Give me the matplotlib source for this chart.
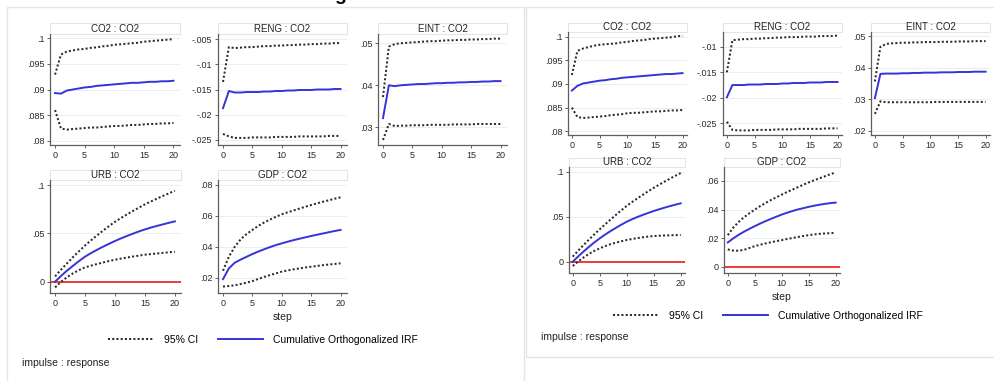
import matplotlib
matplotlib.use("Agg")
import matplotlib.pyplot as plt
from matplotlib.patches import Rectangle
from matplotlib.lines import Line2D
from matplotlib.ticker import FuncFormatter, FixedLocator

plt.rcParams['font.family'] = ['Liberation Sans', 'DejaVu Sans']

W, H = 995, 381

steps = list(range(21))
step_ticks = [0, 5, 10, 15, 20]
titles = ["CO2 : CO2", "RENG : CO2", "EINT : CO2", "URB : CO2", "GDP : CO2"]
legend_labels = ["95% CI", "Cumulative Orthogonalized IRF"]

# ---------------- model A (left graph) ----------------
a_co2_irf = [.0893, .0892, .0898, .0900, .0902, .0904, .0905, .0907, .0908, .0909, .0910,
             .0911, .0912, .0913, .0913, .0914, .0915, .0915, .0916, .0916, .0917]
a_co2_hi = [.0929, .0968, .0974, .0976, .0978, .0979, .0981, .0982, .0984, .0985, .0987,
            .0988, .0989, .0990, .0991, .0993, .0994, .0995, .0996, .0997, .0998]
a_co2_lo = [.0860, .0824, .0822, .0823, .0824, .0825, .0826, .0826, .0827, .0828, .0829,
            .0829, .0830, .0831, .0831, .0832, .0833, .0833, .0834, .0834, .0835]

a_reng_irf = [-.0187, -.0153, -.0156, -.0156, -.0155, -.0155, -.0155, -.0154, -.0154, -.0153, -.0153,
              -.0152, -.0152, -.0151, -.0151, -.0151, -.0150, -.0150, -.0150, -.0149, -.0149]
a_reng_hi = [-.0135, -.0066, -.0068, -.0067, -.0066, -.0066, -.0065, -.0064, -.0064, -.0063, -.0063,
             -.0062, -.0062, -.0061, -.0061, -.0060, -.0060, -.0059, -.0059, -.0058, -.0058]
a_reng_lo = [-.0238, -.0243, -.0246, -.0246, -.0246, -.0245, -.0245, -.0245, -.0245, -.0244, -.0244,
             -.0244, -.0244, -.0243, -.0243, -.0243, -.0243, -.0243, -.0242, -.0242, -.0242]

a_eint_irf = [.0322, .0400, .0398, .0400, .0401, .0402, .0403, .0403, .0404, .0405, .0405,
              .0406, .0406, .0407, .0407, .0408, .0408, .0409, .0409, .0410, .0410]
a_eint_hi = [.0372, .0492, .0498, .0500, .0501, .0502, .0503, .0504, .0505, .0505, .0506,
             .0507, .0507, .0508, .0508, .0509, .0509, .0510, .0510, .0511, .0511]
a_eint_lo = [.0270, .0308, .0303, .0304, .0304, .0305, .0305, .0305, .0306, .0306, .0306,
             .0306, .0307, .0307, .0307, .0307, .0308, .0308, .0308, .0308, .0308]

a_urb_irf = [0.0, .0060, .0115, .0165, .0214, .0259, .0296, .0330, .0362, .0392, .0421,
             .0448, .0473, .0497, .0520, .0541, .0560, .0577, .0593, .0609, .0624]
a_urb_hi = [.0055, .0125, .0191, .0255, .0316, .0375, .0428, .0479, .0528, .0575, .0620,
            .0659, .0696, .0732, .0767, .0800, .0830, .0859, .0887, .0914, .0941]
a_urb_lo = [-.0059, -.0001, .0047, .0087, .0120, .0148, .0166, .0183, .0199, .0214, .0227,
            .0239, .0250, .0260, .0270, .0279, .0286, .0292, .0298, .0304, .0310]

a_gdp_irf = [.0191, .0260, .0297, .0317, .0335, .0353, .0369, .0384, .0398, .0411, .0422,
             .0433, .0443, .0452, .0461, .0470, .0478, .0486, .0494, .0502, .0509]
a_gdp_hi = [.0245, .0336, .0400, .0448, .0482, .0509, .0535, .0557, .0576, .0594, .0610,
            .0623, .0635, .0647, .0659, .0670, .0681, .0691, .0701, .0711, .0720]
a_gdp_lo = [.0143, .0146, .0151, .0159, .0168, .0178, .0192, .0205, .0217, .0228, .0239,
            .0247, .0254, .0260, .0266, .0271, .0276, .0281, .0285, .0289, .0293]

# ---------------- model B (right graph) ----------------
b_co2_irf = [.0886, .0896, .0901, .0903, .0905, .0907, .0908, .0910, .0911, .0913, .0914,
             .0915, .0916, .0917, .0918, .0919, .0920, .0921, .0921, .0922, .0923]
b_co2_hi = [.0919, .0970, .0975, .0978, .0981, .0983, .0984, .0985, .0986, .0988, .0989,
            .0991, .0992, .0993, .0995, .0996, .0997, .0998, .0999, .1001, .1002]
b_co2_lo = [.0850, .0830, .0828, .0829, .0830, .0831, .0832, .0834, .0835, .0836, .0838,
            .0839, .0839, .0840, .0841, .0842, .0842, .0843, .0844, .0844, .0845]

b_reng_irf = [-.0199, -.0175, -.0175, -.0175, -.0174, -.0174, -.0174, -.0173, -.0173, -.0173, -.0172,
              -.0172, -.0171, -.0171, -.0171, -.0170, -.0170, -.0170, -.0169, -.0169, -.0169]
b_reng_hi = [-.0150, -.0087, -.0086, -.0085, -.0085, -.0084, -.0084, -.0083, -.0083, -.0082, -.0082,
             -.0081, -.0081, -.0081, -.0080, -.0080, -.0080, -.0079, -.0079, -.0079, -.0078]
b_reng_lo = [-.0247, -.0263, -.0264, -.0264, -.0264, -.0263, -.0263, -.0263, -.0263, -.0262, -.0262,
             -.0262, -.0262, -.0261, -.0261, -.0261, -.0261, -.0261, -.0260, -.0260, -.0260]

b_eint_irf = [.0303, .0380, .0381, .0381, .0381, .0382, .0382, .0383, .0383, .0384, .0384,
              .0384, .0385, .0385, .0385, .0386, .0386, .0386, .0387, .0387, .0387]
b_eint_hi = [.0356, .0466, .0475, .0477, .0478, .0479, .0479, .0480, .0480, .0481, .0481,
             .0481, .0482, .0482, .0482, .0483, .0483, .0483, .0484, .0484, .0484]
b_eint_lo = [.0253, .0293, .0290, .0290, .0290, .0290, .0290, .0290, .0290, .0290, .0290,
             .0291, .0291, .0291, .0291, .0291, .0291, .0291, .0291, .0291, .0291]

b_urb_irf = [0.0, .0058, .0113, .0165, .0214, .0259, .0301, .0340, .0376, .0411, .0444,
             .0472, .0497, .0520, .0542, .0563, .0582, .0600, .0617, .0633, .0648]
b_urb_hi = [.0056, .0122, .0185, .0245, .0304, .0360, .0415, .0468, .0520, .0571, .0620,
            .0663, .0704, .0744, .0783, .0820, .0855, .0889, .0922, .0954, .0985]
b_urb_lo = [-.0048, .0002, .0047, .0087, .0120, .0148, .0173, .0194, .0212, .0227, .0241,
            .0252, .0262, .0271, .0279, .0285, .0288, .0291, .0293, .0295, .0296]

b_gdp_irf = [.0170, .0198, .0223, .0245, .0265, .0284, .0302, .0319, .0335, .0350, .0365,
             .0378, .0390, .0401, .0410, .0419, .0427, .0434, .0440, .0445, .0449]
b_gdp_hi = [.0221, .0273, .0313, .0346, .0374, .0400, .0424, .0446, .0467, .0486, .0505,
            .0523, .0540, .0557, .0574, .0590, .0605, .0619, .0633, .0647, .0660]
b_gdp_lo = [.0121, .0113, .0112, .0118, .0131, .0144, .0154, .0163, .0171, .0179, .0186,
            .0194, .0201, .0208, .0215, .0221, .0226, .0230, .0233, .0235, .0237]

# y-axis tick values of each subplot
a_yticks = [[.08, .085, .09, .095, .1], [-.025, -.02, -.015, -.01, -.005], [.03, .04, .05],
            [0, .05, .1], [.02, .04, .06, .08]]
b_yticks = [[.08, .085, .09, .095, .1], [-.025, -.02, -.015, -.01], [.02, .03, .04, .05],
            [0, .05, .1], [0, .02, .04, .06]]

# ---------------- style ----------------
IRF_COLOR = "#3434d8"
CI_COLOR = "#2a2a2a"
ZERO_COLOR = "#f03a3a"
AXIS_COLOR = "#5e5e5e"
GRID_COLOR = "#eceef1"
FRAME_COLOR = "#e2e6ea"
CI_STYLE = (0, (1, 1.1))
CI_LW = 1.45

fig = plt.figure(figsize=(W / 100, H / 100), dpi=100)
fig.patch.set_facecolor("white")


def stata_fmt(v, pos=None):
    s = f"{round(v, 6):g}"
    if s.startswith("0."):
        s = s[1:]
    elif s.startswith("-0."):
        s = "-" + s[2:]
    return s


def frame(x0, y0, x1, y1):
    fig.add_artist(Rectangle((x0 / W, 1 - y1 / H), (x1 - x0) / W, (y1 - y0) / H,
                             transform=fig.transFigure, fill=False,
                             edgecolor=FRAME_COLOR, lw=1.0, clip_on=False))


def subplot(box, title_top, title, lo, irf, hi, ylim, yticks, xlim, xlabel=None):
    x0, x1, ytop, ybot = box
    ax = fig.add_axes([x0 / W, 1 - ybot / H, (x1 - x0) / W, (ybot - ytop) / H])
    if ylim[0] < 0 < ylim[1]:
        ax.axhline(0, color=ZERO_COLOR, lw=1.4, zorder=2)
    ax.plot(steps, hi, color=CI_COLOR, ls=CI_STYLE, lw=CI_LW, zorder=3)
    ax.plot(steps, lo, color=CI_COLOR, ls=CI_STYLE, lw=CI_LW, zorder=3)
    ax.plot(steps, irf, color=IRF_COLOR, lw=1.4, zorder=4)
    ax.set_xlim(*xlim)
    ax.set_ylim(*ylim)
    ax.xaxis.set_major_locator(FixedLocator(step_ticks))
    ax.yaxis.set_major_locator(FixedLocator(yticks))
    ax.yaxis.set_major_formatter(FuncFormatter(stata_fmt))
    for side in ("top", "right"):
        ax.spines[side].set_visible(False)
    for side in ("left", "bottom"):
        ax.spines[side].set_color(AXIS_COLOR)
        ax.spines[side].set_linewidth(0.9)
    ax.tick_params(direction="out", length=2.5, width=0.7, color=AXIS_COLOR,
                   labelsize=6.5, pad=1.5, labelcolor="#2a2a2a")
    ax.yaxis.grid(True, color=GRID_COLOR, lw=0.8)
    ax.set_axisbelow(True)
    # title strip above the plot region
    th = (ytop - title_top) / (ybot - ytop)
    ax.add_patch(Rectangle((0, 1.0), 1, th, transform=ax.transAxes, clip_on=False,
                           facecolor="white", edgecolor=FRAME_COLOR, lw=0.8))
    ax.text(0.5, 1.0 + th / 2, title, transform=ax.transAxes, ha="center",
            va="center", fontsize=7, color="#222222")
    if xlabel:
        ax.set_xlabel(xlabel, fontsize=7.5, labelpad=3.5, color="#222222")
    return ax


# panel frames
frame(7, 7, 524, 400)
frame(526, 7, 1000, 357)

# descender of the caption line sitting just above the graphs
fig.text(340 / W, 1.0, "g", fontsize=14, fontweight="bold", ha="center",
         va="baseline", color="black")

a_sets = [(a_co2_lo, a_co2_irf, a_co2_hi), (a_reng_lo, a_reng_irf, a_reng_hi),
          (a_eint_lo, a_eint_irf, a_eint_hi), (a_urb_lo, a_urb_irf, a_urb_hi),
          (a_gdp_lo, a_gdp_irf, a_gdp_hi)]
b_sets = [(b_co2_lo, b_co2_irf, b_co2_hi), (b_reng_lo, b_reng_irf, b_reng_hi),
          (b_eint_lo, b_eint_irf, b_eint_hi), (b_urb_lo, b_urb_irf, b_urb_hi),
          (b_gdp_lo, b_gdp_irf, b_gdp_hi)]

a_ylims = [(.0792, .1008), (-.0260, -.0040), (.0258, .0522), (-.0117, .1052), (.0101, .0832)]
b_ylims = [(.0792, .1010), (-.0273, -.0071), (.0186, .0513), (-.0126, .1052), (-.0044, .0698)]

a_boxes = [(50, 180, 34, 145), (218, 347, 34, 145), (378, 507, 34, 145),
           (50, 181.5, 180, 293), (218, 347, 180, 293)]
a_title_tops = [23, 23, 23, 170, 170]
b_boxes = [(568, 687, 32, 135), (723, 842, 32, 135), (871, 990, 32, 135),
           (569, 685, 167, 273), (724, 840, 167, 273)]
b_title_tops = [23, 23, 23, 158, 158]

for i in range(5):
    lo, irf, hi = a_sets[i]
    subplot(a_boxes[i], a_title_tops[i], titles[i], lo, irf, hi, a_ylims[i],
            a_yticks[i], (-0.85, 21.1), xlabel="step" if i == 4 else None)
    lo, irf, hi = b_sets[i]
    subplot(b_boxes[i], b_title_tops[i], titles[i], lo, irf, hi, b_ylims[i],
            b_yticks[i], (-0.7, 20.8), xlabel="step" if i == 4 else None)

handles = [Line2D([], [], color=CI_COLOR, ls=CI_STYLE, lw=CI_LW),
           Line2D([], [], color=IRF_COLOR, lw=1.4)]
for cx, cy in [(263, 340), (768, 316)]:
    fig.legend(handles, legend_labels, ncol=2, frameon=False, loc="center",
               bbox_to_anchor=(cx / W, 1 - cy / H), fontsize=7.5,
               handlelength=4.4, handletextpad=0.95, columnspacing=1.9)

fig.text(22 / W, 1 - 363 / H, "impulse : response", fontsize=7.5, ha="left",
         va="center", color="#222222")
fig.text(541 / W, 1 - 337 / H, "impulse : response", fontsize=7.5, ha="left",
         va="center", color="#222222")

fig.savefig("out.png", dpi=100, facecolor="white")
